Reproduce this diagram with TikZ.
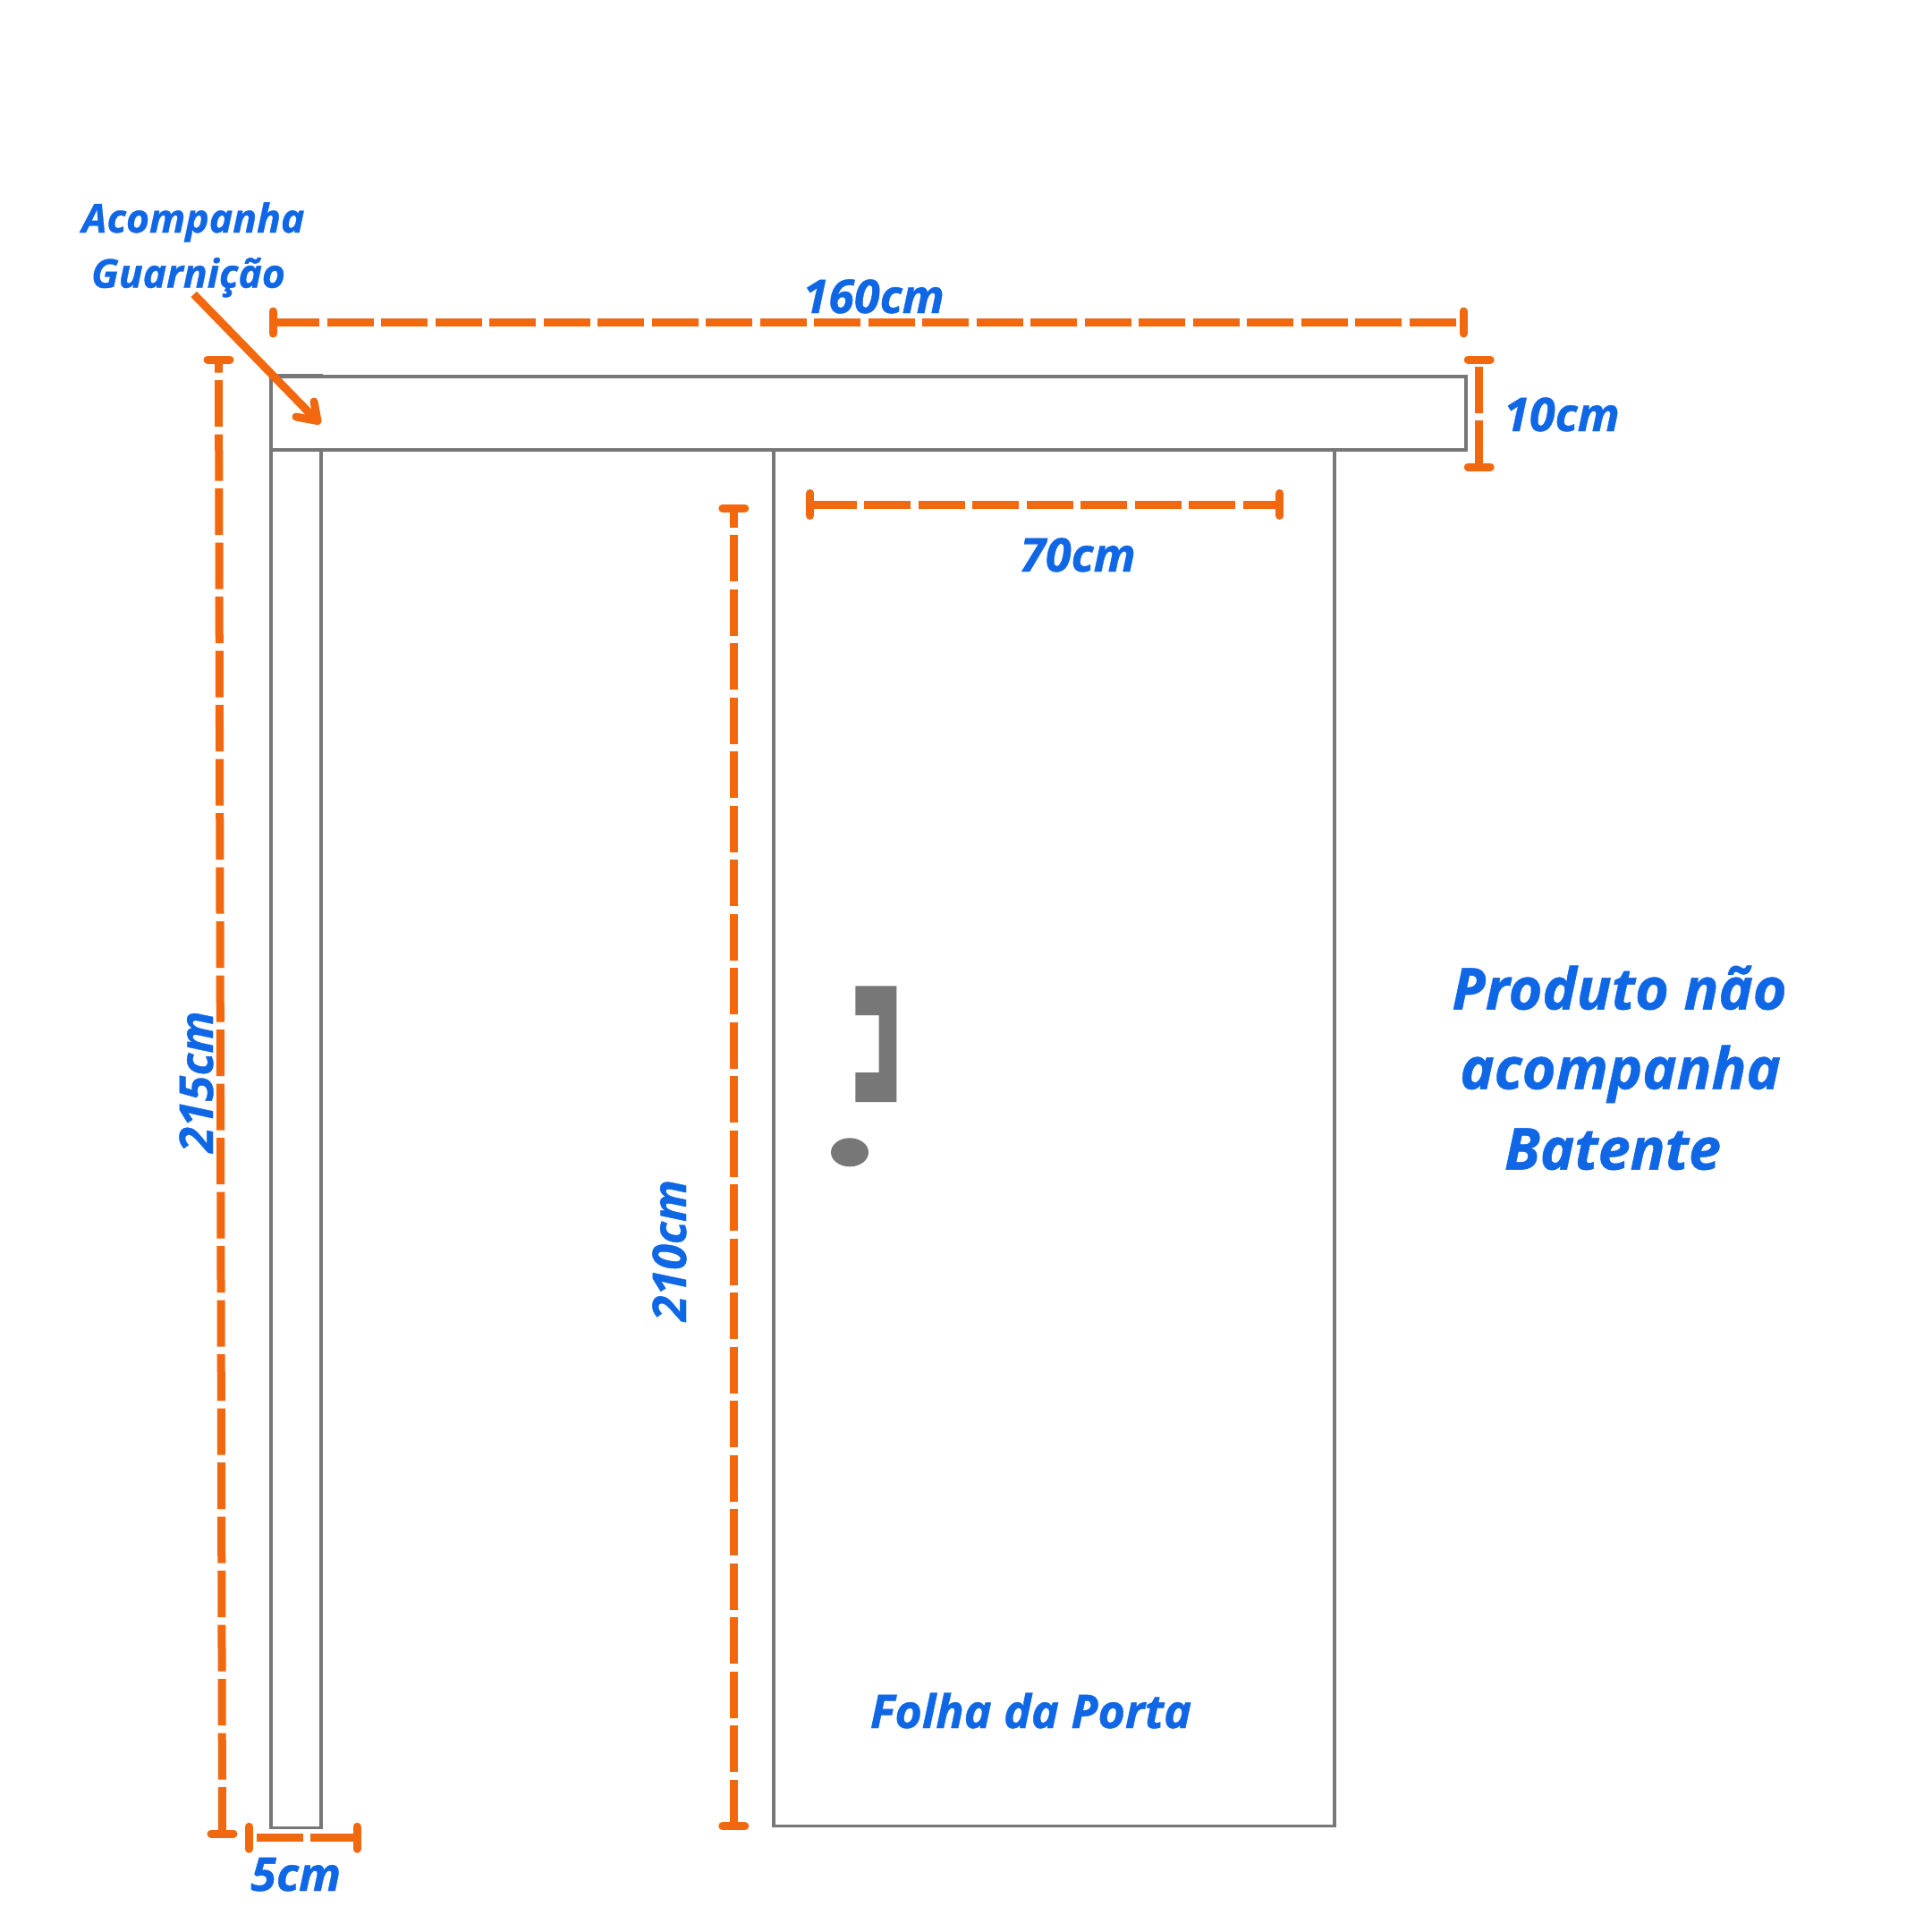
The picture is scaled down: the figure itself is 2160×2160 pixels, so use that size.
\documentclass[tikz,border=0pt]{standalone}
\usepackage{fontspec}
\setmainfont{Open Sans}[BoldItalicFeatures={FakeBold=0.8}]
\definecolor{dimorange}{HTML}{F2680E}
\definecolor{labelblue}{HTML}{0F67E6}
\definecolor{doorgray}{HTML}{777777}
\tikzset{
  outline/.style={draw=doorgray,line width=3.4pt},
  tickmark/.style={draw=dimorange,line width=9pt,line cap=round},
  dimline/.style={draw=dimorange,line width=9pt,dash pattern=on 52pt off 8.5pt},
  lbl/.style={text=labelblue,font=\bfseries\itshape\fontsize{#1}{#1}\selectfont,anchor=base,inner sep=0pt,outer sep=0pt},
}
\begin{document}
\begin{tikzpicture}[x=1pt,y=-1pt]
\useasboundingbox[fill=white] (0,0) rectangle (2160,2160);
% outlines
\draw[outline] (303,420) rectangle (359,2043.5);
\draw[outline,fill=white] (303,421) rectangle (1639,503);
\draw[outline] (865,503) -- (865,2041.5) -- (1492,2041.5) -- (1492,503);
% handle and lock
\fill[doorgray] (956.3,1102.3) -- (1002.3,1102.3) -- (1002.3,1232) -- (956.3,1232) -- (956.3,1199) -- (982.7,1199) -- (982.7,1135) -- (956.3,1135) -- cycle;
\fill[doorgray] (950,1288.3) ellipse [x radius=21,y radius=16];
% dimension end points
\coordinate (wa) at (305,360.5);   \coordinate (wb) at (1636,360.5);
\coordinate (ta) at (1653.7,522);  \coordinate (tb) at (1653.7,402);
\coordinate (ha) at (248.5,2050);  \coordinate (hb) at (244.5,402);
\coordinate (fa) at (399,2054.7);  \coordinate (fb) at (278.3,2054.7);
\coordinate (sa) at (905.7,564);   \coordinate (sb) at (1430.7,564);
\coordinate (da) at (820.3,2041.7);\coordinate (db) at (820.3,568.3);
% dimension lines
\draw[dimline] (wa) -- (wb);
\draw[dimline] (ta) -- (tb);
\draw[dimline] (ha) -- (hb);
\draw[dimline] (fa) -- (fb);
\draw[dimline] (sa) -- (sb);
\draw[dimline] (da) -- (db);
% ticks
\foreach \c in {wa,wb,fa,fb,sa,sb} \draw[tickmark] ([yshift=12.5pt]\c) -- ([yshift=-12.5pt]\c);
\foreach \c in {ta,tb,ha,hb,da,db} \draw[tickmark] ([xshift=-12.5pt]\c) -- ([xshift=12.5pt]\c);
% arrow
\coordinate (aa) at (216.7,329);
\coordinate (ab) at (354,470);
\draw[draw=dimorange,line width=9pt] (aa) -- (ab);
\draw[tickmark,line join=round] (351,449) -- (355,470.5) -- (331,466);
% labels
\node[lbl=44.5] (acomp) at (216,260) {Acompanha};
\node[lbl=44.5] (guarn) at (210.5,321.7) {Guarnição};
\node[lbl=52] (l160) at (976.7,350) {160cm};
\node[lbl=52] (l10) at (1746,482) {10cm};
\node[lbl=52] (l70) at (1205,639) {70cm};
\node[lbl=52] (l5) at (330.7,2114) {5cm};
\node[lbl=52,rotate=90] (l215) at (238,1209.5) {215cm};
\node[lbl=52,rotate=90] (l210) at (767,1398) {210cm};
\node[lbl=64.5] (p1) at (1810.5,1128.5) {Produto não};
\node[lbl=64.5] (p2) at (1811.6,1217.5) {acompanha};
\node[lbl=64.5] (p3) at (1803,1307.5) {Batente};
\node[lbl=52] (folha) at (1152.5,1932) {Folha da Porta};
\end{tikzpicture}
\end{document}
